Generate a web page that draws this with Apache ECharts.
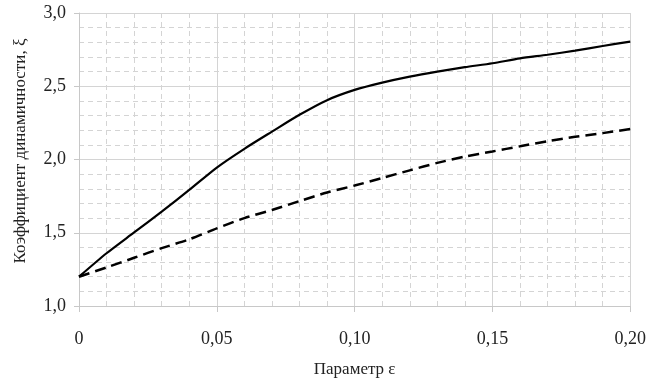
<!DOCTYPE html>
<html>
<head>
<meta charset="utf-8">
<script src="https://cdn.jsdelivr.net/npm/echarts@6/dist/echarts.min.js"></script>
<style>
html, body { margin: 0; padding: 0; background: #fff; }
#chart { width: 649px; height: 383px; }
</style>
</head>
<body>
<div id="chart"></div>
<script>
var eps = [0, 0.01, 0.02, 0.03, 0.04, 0.05, 0.06, 0.07, 0.08, 0.09, 0.10,
    0.11, 0.12, 0.13, 0.14, 0.15, 0.16, 0.17, 0.18, 0.19, 0.20];
var solidVals = [1.2, 1.36, 1.502, 1.644, 1.792, 1.945, 2.073, 2.19, 2.305, 2.405, 2.475,
    2.525, 2.566, 2.60, 2.63, 2.657, 2.69, 2.715, 2.743, 2.775, 2.805];
var dashedVals = [1.2, 1.263, 1.329, 1.395, 1.455, 1.53, 1.60, 1.655, 1.716, 1.775, 1.822,
    1.874, 1.926, 1.977, 2.02, 2.055, 2.09, 2.125, 2.155, 2.18, 2.208];

function pairs(xs, ys) {
    return xs.map(function (x, i) { return [x, ys[i]]; });
}
function comma(v, digits) {
    if (v === 0) return '0';
    return v.toFixed(digits).replace('.', ',');
}

var font = 'Liberation Serif';
var myChart = echarts.init(document.getElementById('chart'));
var option = {
    backgroundColor: '#fff',
    animation: false,
    grid: { left: 79, right: 13, top: 13, bottom: 77 },
    xAxis: {
        type: 'value',
        min: 0, max: 0.2, interval: 0.05,
        name: 'Параметр ε',
        nameLocation: 'middle',
        nameGap: 55,
        nameTextStyle: { fontFamily: font, fontSize: 17, color: '#222' },
        axisLine: { lineStyle: { color: '#c8c8c8' } },
        axisTick: { show: true, length: 6, lineStyle: { color: '#c8c8c8' } },
        axisLabel: {
            fontFamily: font, fontSize: 18, color: '#222', margin: 24,
            formatter: function (v) { return comma(v, 2); }
        },
        splitLine: { show: true, lineStyle: { color: '#d4d4d4', width: 1 } },
        minorTick: { show: false, splitNumber: 5 },
        minorSplitLine: { show: true, lineStyle: { color: '#d4d4d4', type: [5, 4], width: 1 } }
    },
    yAxis: {
        type: 'value',
        min: 1, max: 3, interval: 0.5,
        name: 'Коэффициент динамичности, ξ',
        nameLocation: 'middle',
        nameGap: 50,
        nameTextStyle: { fontFamily: font, fontSize: 17, color: '#222', padding: [0, 0, 0, 17] },
        axisLine: { show: true, lineStyle: { color: '#c8c8c8' } },
        axisTick: { show: true, length: 5, lineStyle: { color: '#c8c8c8' } },
        axisLabel: {
            fontFamily: font, fontSize: 18, color: '#222', margin: 13,
            formatter: function (v) { return comma(v, 1); }
        },
        splitLine: { show: true, lineStyle: { color: '#d4d4d4', width: 1 } },
        minorTick: { show: false, splitNumber: 5 },
        minorSplitLine: { show: true, lineStyle: { color: '#d4d4d4', type: [5, 4], width: 1 } }
    },
    series: [{
        name: 'solid',
        type: 'line',
        data: pairs(eps, solidVals),
        smooth: 0.25,
        showSymbol: false,
        lineStyle: { color: '#000', width: 2.2 }
    }, {
        name: 'dashed',
        type: 'line',
        data: pairs(eps, dashedVals),
        smooth: 0.25,
        showSymbol: false,
        lineStyle: { color: '#000', width: 2.5, type: [11, 6] }
    }]
};
myChart.setOption(option);
</script>
</body>
</html>
